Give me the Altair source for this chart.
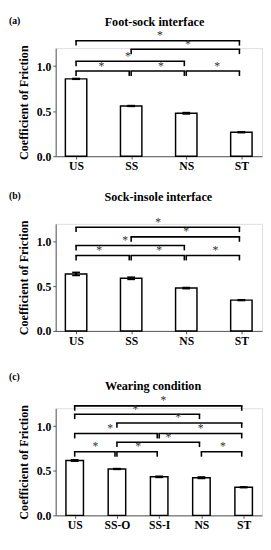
import json
import altair as alt
import pandas as pd

# ---------------- data ----------------
# Panel (a)
a_tag = "(a)"
a_title = "Foot-sock interface"
a_cats = ["US", "SS", "NS", "ST"]
a_means = [0.859, 0.558, 0.477, 0.266]
a_errs = [0.005, 0.005, 0.008, 0.005]
a_from = [0, 1, 0, 0, 1, 2]
a_to = [3, 3, 2, 1, 2, 3]
a_level = [1.283, 1.188, 1.054, 0.946, 0.946, 0.946]
a_star = [1.52, 2.03, 0.94, 0.46, 1.54, 2.56]

# Panel (b)
b_tag = "(b)"
b_title = "Sock-insole interface"
b_cats = ["US", "SS", "NS", "ST"]
b_means = [0.639, 0.590, 0.480, 0.345]
b_errs = [0.018, 0.013, 0.007, 0.005]
b_from = [0, 1, 0, 0, 1, 2]
b_to = [3, 3, 2, 1, 2, 3]
b_level = [1.162, 1.054, 0.957, 0.845, 0.845, 0.845]
b_star = [1.49, 2.00, 0.89, 0.42, 1.51, 2.53]

# Panel (c)
c_tag = "(c)"
c_title = "Wearing condition"
c_cats = ["US", "SS-O", "SS-I", "NS", "ST"]
c_means = [0.615, 0.520, 0.432, 0.422, 0.315]
c_errs = [0.008, 0.005, 0.007, 0.009, 0.005]
c_from = [0, 0, 1, 0, 2, 1, 0, 1, 3]
c_to = [4, 3, 4, 2, 4, 3, 1, 2, 4]
c_level = [1.227, 1.133, 1.036, 0.917, 0.917, 0.820, 0.712, 0.712, 0.712]
c_star = [2.10, 1.44, 2.45, 0.84, 2.98, 2.22, 0.49, 1.50, 3.51]

y_ticks = [0.0, 0.5, 1.0]
y_max = 1.2

FONT = "Liberation Serif"
INK = "#000000"
AXIS = "#555555"
PLOT_W = 212


def panel(tag, title, cats, means, errs, b_i, b_j, b_lv, b_star,
          height, xdom, bar_size, title_x, title_y, tag_y):
    n = len(cats)
    bars = pd.DataFrame({"pos": list(range(n)), "cat": cats,
                         "mean": means, "err": errs})
    brk = pd.DataFrame({"i": b_i, "j": b_j, "level": b_lv, "sx": b_star})

    xscale = alt.Scale(domain=xdom, nice=False, zero=False, padding=0)
    yscale = alt.Scale(domain=[0, y_max], nice=False, padding=0)
    label_expr = json.dumps(cats) + "[datum.value]"

    x_enc = alt.X("pos:Q", scale=xscale, title=None,
                  axis=alt.Axis(values=list(range(n)), labelExpr=label_expr,
                                grid=False, tickSize=3, labelPadding=2,
                                labelFlush=False, labelOverlap=False,
                                labelFont=FONT, labelFontSize=12,
                                labelFontWeight="bold", labelColor=INK,
                                domainColor=AXIS, tickColor=AXIS))
    y_enc = alt.Y("mean:Q", scale=yscale,
                  title="Coefficient of Friction",
                  axis=alt.Axis(values=y_ticks, format=".1f", grid=False,
                                tickSize=3, labelPadding=2,
                                labelFont=FONT, labelFontSize=12,
                                labelFontWeight="bold", labelColor=INK,
                                titleFont=FONT, titleFontSize=12.5,
                                titleFontWeight="bold", titleColor=INK,
                                titlePadding=6,
                                domainColor=AXIS, tickColor=AXIS))

    base = alt.Chart(bars)
    bar = base.mark_bar(orient="vertical", size=bar_size, fill="white",
                        stroke=INK, strokeWidth=1.5).encode(
        x=x_enc, y=y_enc, y2=alt.datum(0))
    eb = base.transform_calculate(
        lo="datum.mean - datum.err", hi="datum.mean + datum.err")
    err_v = eb.mark_rule(color=INK, strokeWidth=2.5).encode(
        x="pos:Q", y="lo:Q", y2="hi:Q")
    cap_hi = eb.mark_rule(color=INK, strokeWidth=1.5, xOffset=-4,
                          x2Offset=4).encode(x="pos:Q", x2="pos:Q", y="hi:Q")
    cap_lo = eb.mark_rule(color=INK, strokeWidth=1.5, xOffset=-4,
                          x2Offset=4).encode(x="pos:Q", x2="pos:Q", y="lo:Q")

    bb = alt.Chart(brk)
    line = bb.mark_rule(color=INK, strokeWidth=1.6, strokeCap="square",
                        x2Offset=-2).encode(x="i:Q", x2="j:Q", y="level:Q")
    tick_l = bb.mark_rule(color=INK, strokeWidth=1.6, y2Offset=5).encode(
        x="i:Q", y="level:Q", y2="level:Q")
    tick_r = bb.mark_rule(color=INK, strokeWidth=1.6, xOffset=-2,
                          y2Offset=5).encode(x="j:Q", y="level:Q", y2="level:Q")
    star = bb.mark_text(
        text="*", font=FONT, fontSize=12, color="#333333", dy=-1.5,
        baseline="alphabetic", align="center").encode(
        x="sx:Q", y="level:Q")

    tag_df = pd.DataFrame({"t": [tag]})
    title_df = pd.DataFrame({"t": [title]})
    tag_txt = alt.Chart(tag_df).mark_text(
        font=FONT, fontSize=10, fontWeight="bold", color=INK,
        align="left", baseline="middle").encode(
        text="t:N", x=alt.value(-48), y=alt.value(tag_y))
    title_txt = alt.Chart(title_df).mark_text(
        font=FONT, fontSize=12.5, fontWeight="bold", color=INK,
        align="center", baseline="alphabetic").encode(
        text="t:N", x=alt.value(title_x), y=alt.value(title_y))

    return alt.layer(bar, err_v, cap_hi, cap_lo, line, tick_l, tick_r, star,
                     tag_txt, title_txt).properties(width=PLOT_W, height=height)


pa = panel(a_tag, a_title, a_cats, a_means, a_errs, a_from, a_to, a_level,
           a_star, 111, [-0.37, 3.375], 22, 101.5, -23, -28)
pb = panel(b_tag, b_title, b_cats, b_means, b_errs, b_from, b_to, b_level,
           b_star, 110, [-0.37, 3.375], 22, 105.5, -23, -28.5)
pc = panel(c_tag, c_title, c_cats, c_means, c_errs, c_from, c_to, c_level,
           c_star, 110, [-0.45, 4.435], 18, 100, -19, -32)

top = alt.vconcat(pa, pb, spacing=18.5)
chart = alt.vconcat(top, pc, spacing=25).properties(
    padding={"left": 0, "top": 0, "right": 0, "bottom": 0}
).configure_view(stroke=None).configure(font=FONT)

chart.save("out.html", embed_options={"renderer": "svg", "actions": False})
